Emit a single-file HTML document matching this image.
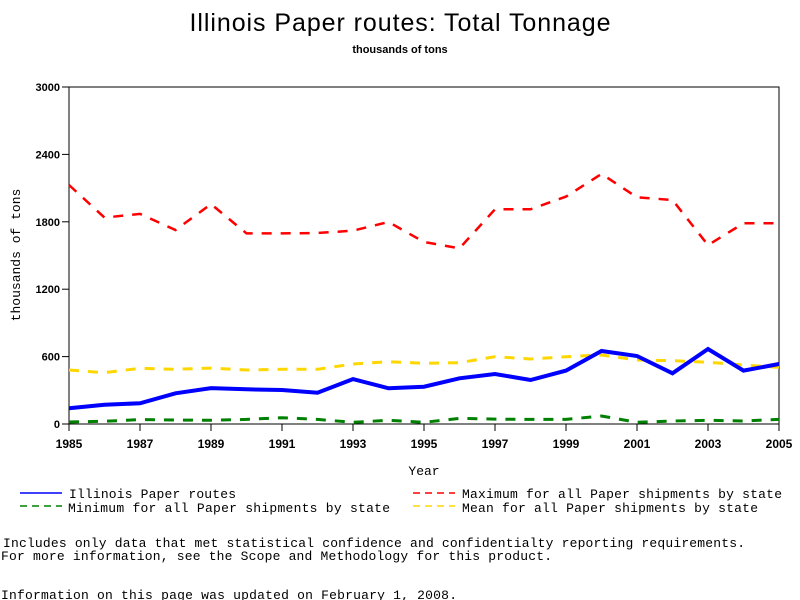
<!DOCTYPE html>
<html><head><meta charset="utf-8"><style>
html,body{margin:0;padding:0;background:#fff;}
svg{display:block;}
text{font-family:"Liberation Sans",sans-serif;}
.mono{font-family:"Liberation Mono",monospace;font-size:13px;}
</style></head><body>
<svg id="chart" width="800" height="600" viewBox="0 0 800 600">
<text x="400" y="31" text-anchor="middle" font-size="25" textLength="421">Illinois Paper routes: Total Tonnage</text>
<text x="400" y="53" text-anchor="middle" font-size="11" font-weight="bold">thousands of tons</text>
<rect x="69" y="87" width="710" height="337" fill="none" stroke="#000" stroke-width="1"/>
<g id="yticks"></g>
<g id="xticks"></g>
<g id="series"></g>
<text transform="translate(20,255) rotate(-90)" text-anchor="middle" class="mono" font-size="12">thousands of tons</text>
<text x="424" y="475" text-anchor="middle" class="mono">Year</text>
<g>
<line x1="20" y1="493" x2="62" y2="493" stroke="#0000ff" stroke-width="1.5"/>
<text x="69" y="498" class="mono" textLength="167">Illinois Paper routes</text>
<line x1="20" y1="506" x2="62" y2="506" stroke="#008000" stroke-width="1.5" stroke-dasharray="7,5"/>
<text x="68" y="512" class="mono" textLength="322">Minimum for all Paper shipments by state</text>
<line x1="413" y1="493" x2="455" y2="493" stroke="#ff0000" stroke-width="1.5" stroke-dasharray="7,5"/>
<text x="462" y="498" class="mono" textLength="320">Maximum for all Paper shipments by state</text>
<line x1="413" y1="506" x2="455" y2="506" stroke="#ffd700" stroke-width="1.5" stroke-dasharray="7,5"/>
<text x="462" y="512" class="mono" textLength="296">Mean for all Paper shipments by state</text>
</g>
<text x="3" y="547" class="mono" textLength="742">Includes only data that met statistical confidence and confidentialty reporting requirements.</text>
<text x="1" y="560" class="mono" textLength="551">For more information, see the Scope and Methodology for this product.</text>
<text x="1" y="599" class="mono" textLength="456">Information on this page was updated on February 1, 2008.</text>
</svg>
<script>
const years=[1985,1986,1987,1988,1989,1990,1991,1992,1993,1994,1995,1996,1997,1998,1999,2000,2001,2002,2003,2004,2005];
const illinois=[140,172,184,273,320,309,303,279,400,318,332,407,445,392,475,650,605,451,668,475,534];
const maximum=[2128,1837,1870,1727,1958,1697,1697,1700,1721,1798,1620,1564,1911,1911,2024,2226,2018,1994,1593,1787,1787];
const minimum=[18,24,39,36,33,41,56,41,15,33,15,50,44,41,41,71,15,27,33,27,41];
const mean=[481,457,496,487,498,481,487,487,534,555,540,546,599,579,599,614,570,564,549,525,505];
const yTicks=[0,600,1200,1800,2400,3000];
const xTickLabels=[1985,1987,1989,1991,1993,1995,1997,1999,2001,2003,2005];
const NS='http://www.w3.org/2000/svg';
const X0=69,X1=779,Y0=424,Y1=87;
function xs(v){return X0+(v-1985)/(2005-1985)*(X1-X0);}
function ys(v){return Y0-v/3000*(Y0-Y1);}
function mk(tag,attrs,parent){const e=document.createElementNS(NS,tag);for(const k in attrs)e.setAttribute(k,attrs[k]);parent.appendChild(e);return e;}
const yg=document.getElementById('yticks');
yTicks.forEach(v=>{
 const l=mk('line',{x1:62,x2:69,y1:ys(v),y2:ys(v),stroke:'#000'},yg);
 
 
 const t=mk('text',{x:60,y:ys(v)+4,'text-anchor':'end','font-size':11,'font-weight':'bold'},yg);
 t.textContent=v;
 
 
});
const xg=document.getElementById('xticks');
xTickLabels.forEach(v=>{
 const l=mk('line',{x1:xs(v),x2:xs(v),y1:424,y2:431,stroke:'#000'},xg);
 
 
 const t=mk('text',{x:xs(v),y:448,'text-anchor':'middle','font-size':12,'font-weight':'bold'},xg);
 t.textContent=v;
 
 
});
const sg=document.getElementById('series');
function line(vals,color,w,dash,name){
 const d=vals.map((v,i)=>(i?'L':'M')+xs(years[i]).toFixed(1)+','+ys(v).toFixed(1)).join(' ');
 const p=mk('path',{d:d,fill:'none',stroke:color,'stroke-width':w},sg);
 if(dash)p.setAttribute('stroke-dasharray',dash);
 
 
}
line(maximum,'#ff0000',2.5,'10,9','series-maximum');
line(mean,'#ffd700',3,'10,9','series-mean');
line(minimum,'#008000',3,'10,9','series-minimum');
line(illinois,'#0000ff',4,null,'series-illinois');
</script>
</body></html>
